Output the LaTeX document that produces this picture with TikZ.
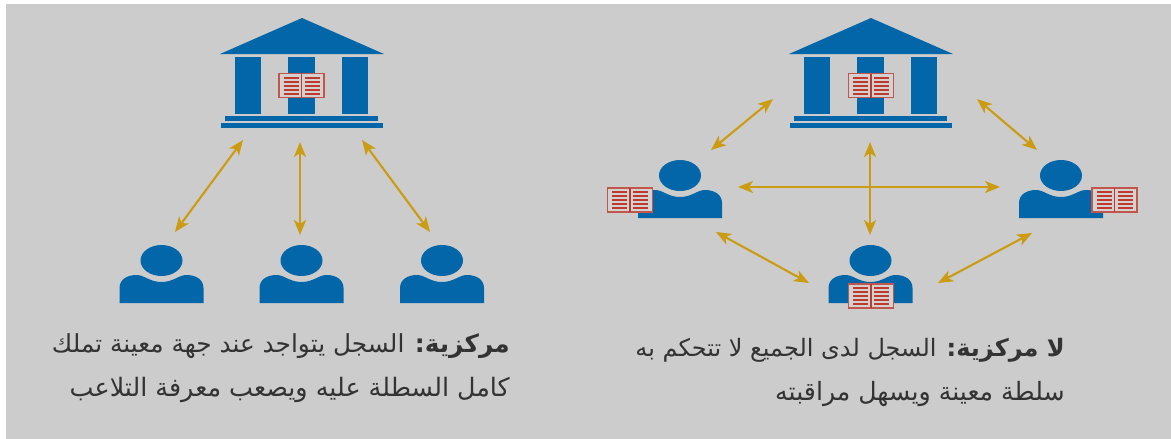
\documentclass[tikz,border=0pt]{standalone}
\usepackage{fontspec}
\TeXXeTstate=1
\newfontfamily\arabicfont[Script=Arabic]{DejaVu Sans}
\usetikzlibrary{arrows.meta}
\definecolor{bankblue}{HTML}{0366A9}
\definecolor{bookred}{HTML}{C0392B}
\definecolor{arrowgold}{HTML}{CB9B12}
\definecolor{panelgray}{HTML}{CCCCCC}
\definecolor{textgray}{HTML}{333333}
\tikzset{
  link/.style={draw=arrowgold,line width=2.1pt,{Stealth[length=15pt,width=12pt,inset=4pt]}-{Stealth[length=15pt,width=12pt,inset=4pt]}},
  caption/.style={anchor=east,inner sep=0pt,text=textgray},
  bookicon/.pic={
    \fill[panelgray!88!white] (-22.5,-12) rectangle (22.5,12);
    \draw[bookred!80!panelgray,line width=1.4pt] (-22.5,-12) rectangle (22.5,12);
    \draw[bookred,line width=1.2pt] (0,-12) -- (0,12);
    \foreach \yy in {-8,-4,0,4,8}{
      \draw[bookred,line width=2pt] (-18,\yy) -- (-3,\yy);
      \draw[bookred,line width=2pt] (3,\yy) -- (18,\yy);
    }
  },
  bankicon/.pic={
    \fill[bankblue] (0,-18) -- (82,18) -- (-82,18) -- cycle;
    \fill[bankblue] (-67,21) rectangle (-41,78);
    \fill[bankblue] (-14,21) rectangle (13,78);
    \fill[bankblue] (40,21) rectangle (66,78);
    \fill[bankblue] (-77,80) rectangle (76,85);
    \fill[bankblue] (-81,86.500) rectangle (81,91.500);
  },
  personicon/.pic={
    \fill[bankblue] (0,-42.500) ellipse [x radius=21,y radius=15.500];
    \fill[bankblue] (-42,0) -- (-42,-15)
      .. controls (-42,-23) and (-35,-28) .. (-25,-28)
      .. controls (-17,-28) and (-12,-21) .. (0,-21)
      .. controls (12,-21) and (17,-28) .. (25,-28)
      .. controls (35,-28) and (42,-23) .. (42,-15)
      -- (42,0) -- cycle;
  }
}
\newcommand{\capfont}[1]{\arabicfont\fontsize{#1}{28}\selectfont}
\begin{document}
\begin{tikzpicture}[x=1pt,y=-1pt]
\useasboundingbox (0,0) rectangle (1171,439);
\fill[panelgray] (6,4) rectangle (1171,439);
\coordinate (bankL) at (302,36);
\coordinate (bankR) at (871,36);
\pic at (bankL) {bankicon};
\pic at (bankR) {bankicon};
\pic at (301.500,85.500) {bookicon};
\pic at (871,85.500) {bookicon};
\coordinate (pA) at (161.500,303);
\coordinate (pB) at (301.500,303);
\coordinate (pC) at (442,303);
\coordinate (pD) at (680,218);
\coordinate (pE) at (1061,218);
\coordinate (pF) at (870.500,303);
\foreach \pp in {pA,pB,pC,pD,pE,pF}{\pic at (\pp) {personicon};}
\pic at (630,200) {bookicon};
\pic at (1114.500,200) {bookicon};
\pic at (871,296) {bookicon};
\coordinate (a1) at (243,140); \coordinate (a2) at (175,232);
\coordinate (b1) at (300,142); \coordinate (b2) at (300,235);
\coordinate (c1) at (362,140); \coordinate (c2) at (430,232);
\coordinate (d1) at (773,99);  \coordinate (d2) at (711,150);
\coordinate (e1) at (977,99);  \coordinate (e2) at (1037,150);
\coordinate (f1) at (870,142); \coordinate (f2) at (870,235);
\coordinate (g1) at (738,187); \coordinate (g2) at (1000,187);
\coordinate (h1) at (716,232); \coordinate (h2) at (809,283);
\coordinate (i1) at (1032,233);\coordinate (i2) at (938,283);
\foreach \s/\t in {a1/a2,b1/b2,c1/c2,d1/d2,e1/e2,f1/f2,g1/g2,h1/h2,i1/i2}{\draw[link] (\s) -- (\t);}
\node[caption] (capL1) at (510,346) {\capfont{24.8}\beginR{\bfseries مركزية:} السجل يتواجد عند جهة معينة تملك\endR};
\node[caption] (capL2) at (510,390) {\capfont{25.4}\beginR كامل السطلة عليه ويصعب معرفة التلاعب\endR};
\node[caption] (capR1) at (1065,350) {\capfont{24.0}\beginR{\bfseries لا مركزية:} السجل لدى الجميع لا تتحكم به\endR};
\node[caption] (capR2) at (1065,394) {\capfont{25.2}\beginR سلطة معينة ويسهل مراقبته\endR};
\end{tikzpicture}
\end{document}
